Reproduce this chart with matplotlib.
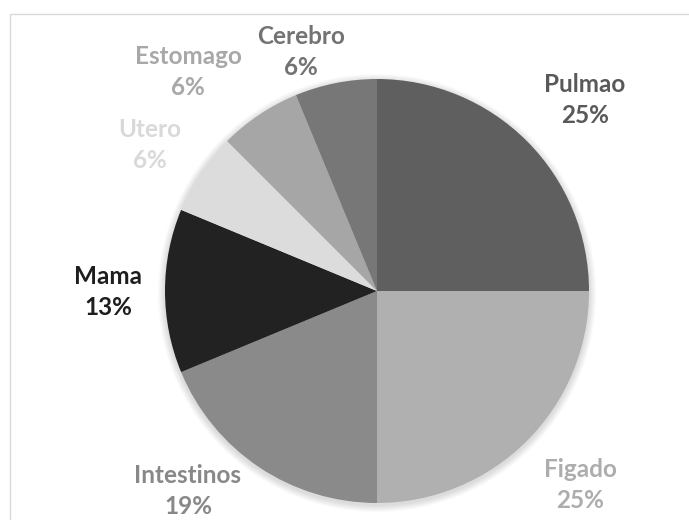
import matplotlib.pyplot as plt
from matplotlib.patches import Rectangle, Circle

# Tumour sites (counts out of 16 -> percentages shown on the chart)
sites = ['Pulmao', 'Figado', 'Intestinos', 'Mama', 'Utero', 'Estomago', 'Cerebro']
counts = [4, 4, 3, 2, 1, 1, 1]
colors = ['#5f5f5f', '#b0b0b0', '#8a8a8a', '#222222', '#dcdcdc', '#a6a6a6', '#777777']
label_colors = ['#595959', '#adadad', '#888888', '#1e1e1e', '#d9d9d9', '#a8a8a8', '#737373']

# label positions in pixels (x, y from top), as placed in the reference
label_pos = [(585, 100), (580, 485), (188, 491), (108, 292), (150, 145), (188, 72), (301, 52)]

W, H = 689, 520
cx, cy, r = 377, 291, 212

fig = plt.figure(figsize=(W / 100, H / 100), dpi=100)
ax = fig.add_axes([0, 0, 1, 1])

# chart area border
ax.add_patch(Rectangle((10, -20), W + 20, H - 14 + 20, fill=False,
                       edgecolor='#d9d9d9', linewidth=1, zorder=0))

# soft shadow around the pie
for i in range(7):
    ax.add_patch(Circle((cx, H - cy - 2), r + 1 + i, color='#000000',
                        alpha=0.02, linewidth=0, zorder=1))

total = sum(counts)
ax.pie(counts, colors=colors, startangle=90, counterclock=False,
       center=(cx, H - cy), radius=r, frame=True,
       wedgeprops=dict(linewidth=0, zorder=2))
ax.set_xlim(0, W)
ax.set_ylim(0, H)
ax.set_aspect('equal')
ax.axis('off')

for name, c, col, (x, y) in zip(sites, counts, label_colors, label_pos):
    pct = int(100 * c / total + 0.5)
    ax.text(x, H - y, f'{name}\n{pct}%', ha='center', va='center',
            color=col, fontsize=17.5, fontweight='bold', family='Lato',
            linespacing=1.45, zorder=3)

fig.savefig('out.png', dpi=100)
